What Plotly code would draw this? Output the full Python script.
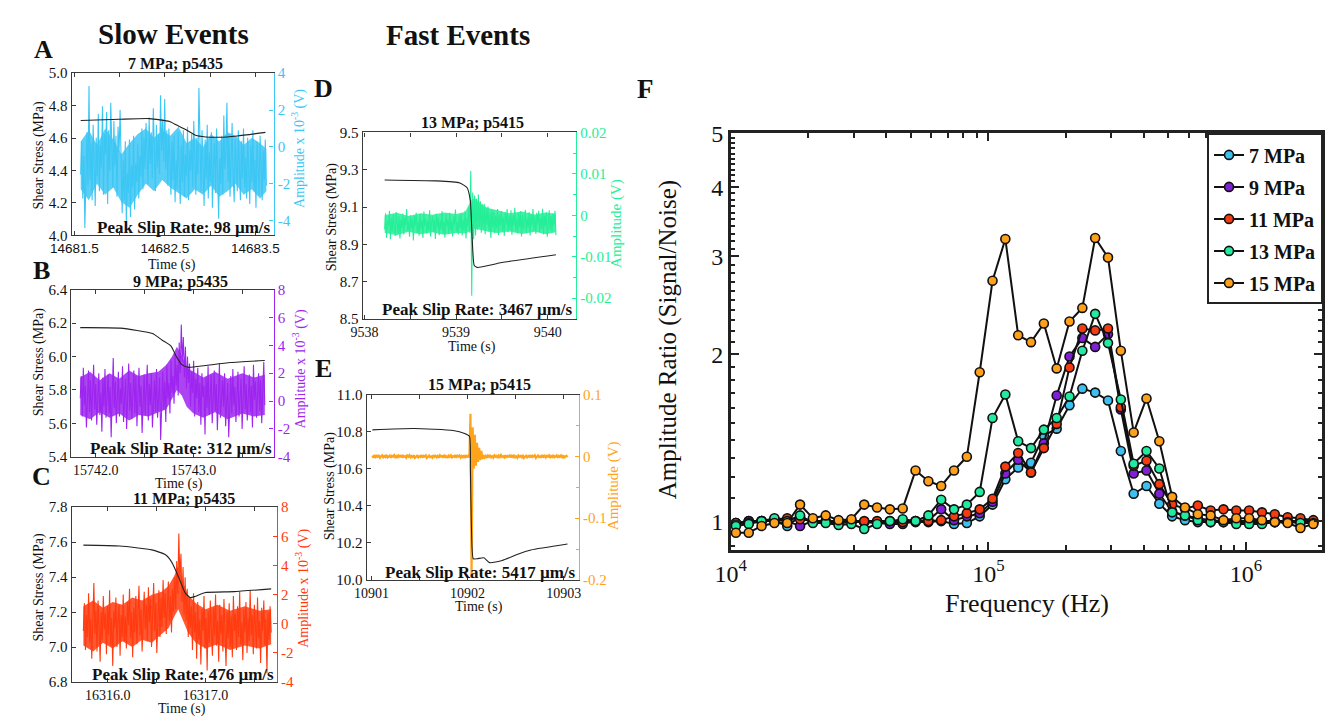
import numpy as np
import plotly.graph_objects as go

W, H = 1330, 724
SERIF = "Liberation Serif, Times New Roman, serif"
SANS = "Liberation Sans, Arial, sans-serif"

# ---------------- colours ----------------
C_CYAN = "#3cc6f4"
C_PURP = "#9d25ef"
C_RED = "#ff3b0f"
C_GREEN = "#25ee98"
C_ORANGE = "#ffa31a"

# ---------------- Panel A (7 MPa; p5435) ----------------
a_amp_t_range = (14681.57, 14683.62)
a_amp = [-1.5, 0.3, -2.8, -0.5, -4.4, -1.2, 0.8, -2.1, 3.3, -1.8, 0.2, -2.9, 1.2, -0.8, -3.2, 0.5, -1.6, 1.8, -2.4, 0.1,
         -1.1, 2.2, -2.6, 0.7, -0.4, 1.9, -3.1, 0.9, -1.3, 2.4, -0.6, -2.2, 1.4, -1.0, 0.6, -2.7, 1.1, -0.3, 2.0, -1.9,
         -3.6, -0.7, -2.9, 0.3, -4.1, -1.4, -2.5, 0.4, -3.8, -1.0, -2.2, 0.6, -3.4, -0.9, -1.9, 0.2, -2.8, -0.5, -1.6, 1.0,
         -2.3, 0.5, -1.2, 1.3, -0.6, -2.0, 1.6, -0.9, 0.8, -1.7, 2.1, -0.4, -2.4, 1.2, -1.1, 0.7, -1.5, 2.8, -0.2, 1.5,
         -0.8, 2.6, -1.2, 0.9, -2.1, 1.0, -0.5, -2.6, 0.3, -1.8, 0.6, -3.0, -0.7, -2.3, 0.8, -1.4, -3.1, 0.1, -1.9, 0.9,
         -2.7, -0.4, -1.6, 1.1, -2.9, -0.2, -1.3, 0.7, -2.2, 1.4, -0.9, -2.6, 0.5, -1.5, 3.2, -0.8, -2.4, 0.9, -1.1, -3.2,
         0.4, -1.7, 1.2, -2.8, -0.3, -1.9, 0.8, -3.3, -1.0, 0.2, -2.5, 1.0, -1.4, -3.9, -0.6, -2.0, 0.6, -2.6, 1.7, -1.2,
         -0.4, 2.4, -1.9, 0.7, -2.7, -0.5, 1.3, -1.6, -3.0, 0.4, -1.2, -2.4, 0.9, -0.8, -2.9, 0.3, -1.7, 1.0, -2.2, -0.6,
         -2.8, 0.5, -1.4, -3.1, 0.1, -1.9, 0.9, -2.4, -0.7, -3.3, 0.3, -1.5, -2.6, 0.6, -1.0, -2.9, -0.2, -1.8, 0.4, -2.1]
# dense core of the noise (lower / upper edge)
a_band_t = [14681.57, 14681.66, 14681.75, 14681.84, 14681.93, 14682.02, 14682.11, 14682.20, 14682.29, 14682.38,
            14682.47, 14682.56, 14682.65, 14682.74, 14682.83, 14682.92, 14683.01, 14683.10, 14683.19, 14683.28,
            14683.37, 14683.46, 14683.55, 14683.62]
a_band_lo = [-2.3, -2.9, -2.0, -2.6, -2.2, -3.0, -3.3, -2.6, -2.0, -2.4, -1.8, -2.2, -2.5, -2.8, -2.3, -2.6, -2.1,
             -2.7, -2.4, -2.0, -2.6, -2.3, -2.8, -2.4]
a_band_hi = [0.3, 0.9, 0.1, 1.0, 0.4, -0.4, 0.2, 0.7, 1.0, 0.5, 0.9, 0.6, 1.1, 0.2, 0.5, 0.0, 0.7, 0.3, 0.8, 0.6,
             0.1, 0.5, 0.2, -0.1]
a_stress_t = [14681.57, 14682.00, 14682.33, 14682.55, 14682.63, 14682.73, 14682.84, 14682.95, 14683.09, 14683.30, 14683.61]
a_stress = [4.708, 4.716, 4.720, 4.702, 4.680, 4.653, 4.617, 4.607, 4.605, 4.613, 4.635]

# ---------------- Panel B (9 MPa; p5435) ----------------
b_amp_t_range = (15741.84, 15743.73)
b_amp = [0.2, 1.8, -1.1, 2.4, -0.3, 1.1, -1.9, 0.9, 2.2, -0.8, 1.5, -1.4, 0.4, 2.6, -0.6, 1.2, -1.7, 0.8, 2.0, -1.0,
         0.6, -2.2, 1.7, -0.4, 2.3, -1.2, 0.3, 1.9, -0.9, 1.0, -2.6, 0.7, 3.1, -0.5, 1.4, -1.6, 0.2, 2.1, -1.1, 0.9,
         -0.2, 2.5, -1.5, 0.6, 1.6, -2.0, 0.8, 2.7, -0.7, 1.3, -1.3, 0.1, 2.2, -0.9, 1.8, -1.8, 0.5, 2.4, -0.4, 1.1,
         -2.3, 0.9, 1.9, -1.0, 0.4, 2.6, -1.4, 1.2, -0.3, 2.0, -1.9, 0.7, 1.5, -0.8, 2.3, -1.2, 0.3, 1.7, -2.8, 0.8,
         2.1, -0.6, 1.4, -1.5, 2.6, 0.2, 1.3, -0.9, 2.9, 0.6, 1.8, -0.2, 3.4, 1.1, 2.6, 0.4,
         4.2, 2.0, 5.5, 2.8, 4.6, 1.7, 3.9, 0.9, 3.2, 1.3,
         2.7, -0.4, 2.1, 0.6, 2.9, -1.1, 1.6, 0.2, 2.4, -0.8, 1.3, -1.7, 2.0, 0.3, 1.1, -2.4, 1.7, -0.5, 2.5, -1.0,
         0.8, 1.9, -1.6, 0.5, 2.2, -0.7, 1.2, -2.1, 0.4, 2.7, -1.2, 0.9, 1.5, -0.4, 2.0, -1.8, 0.6, 1.3, -2.6, 0.2,
         1.8, -0.9, 2.3, -0.3, 1.0, -1.5, 0.7, 2.1, -1.1, 0.3, 1.6, -2.0, 0.9, 2.5, -0.6, 1.2, -1.4, 0.5, 1.9, -0.8,
         1.1, -1.9, 2.6, 0.1, 1.4, -1.2, 0.6, 2.0, -0.7, 1.5, -1.6, 0.8, 2.8, -0.3]
b_band_t = [15741.84, 15741.94, 15742.04, 15742.14, 15742.24, 15742.34, 15742.44, 15742.54, 15742.64, 15742.72,
            15742.78, 15742.83, 15742.88, 15742.93, 15743.00, 15743.10, 15743.22, 15743.35, 15743.50, 15743.62,
            15743.73]
b_band_lo = [-1.0, -1.3, -0.8, -1.2, -0.9, -1.4, -1.0, -1.1, -0.8, -0.6, 0.2, 0.8, 0.4, -0.4, -0.9, -1.2, -0.8,
             -1.3, -0.9, -1.1, -1.0]
b_band_hi = [1.7, 2.1, 1.5, 2.0, 1.6, 2.2, 1.8, 2.0, 2.1, 2.6, 3.2, 3.9, 3.3, 2.4, 2.1, 1.7, 2.1, 1.6, 2.0, 1.7, 1.9]
b_stress_t = [15741.84, 15742.25, 15742.58, 15742.68, 15742.77, 15742.82, 15742.88, 15742.95, 15743.12, 15743.38, 15743.73]
b_stress = [6.173, 6.170, 6.138, 6.098, 6.063, 6.005, 5.952, 5.935, 5.946, 5.964, 5.976]

# ---------------- Panel C (11 MPa; p5435) ----------------
c_amp_t_range = (16315.75, 16317.67)
c_amp = [-0.5, 1.4, -1.8, 0.6, -0.9, 2.1, -1.3, 0.3, -2.4, 1.0, 2.8, -0.7, 0.9, -1.9, 1.6, -0.2, -2.6, 0.8, -1.1, 1.9,
         -0.4, 0.7, -2.1, 1.2, -0.8, 2.3, -1.5, 0.4, -2.9, 0.9, -0.3, 1.8, -1.6, 0.2, 1.3, -2.2, 0.6, -0.9, 2.0, -1.2,
         0.5, -1.7, 1.5, -0.1, 2.4, -1.0, 0.8, -2.3, 1.1, -0.6, 1.9, -1.4, 0.3, 2.6, -0.8, 1.0, -1.9, 0.7, 2.2, -0.4,
         1.3, -1.2, 2.5, 0.1, 1.7, -1.6, 0.9, 2.8, -0.5, 1.4, -2.0, 0.6, 2.3, -0.9, 1.8, -0.2, 3.0, 0.4, 2.1, -0.7,
         1.6, 2.9, 0.2, 1.9, -0.6, 2.4, 0.8, 3.2, 1.0,
         4.3, 2.1, 6.2, 3.0, 4.8, 1.5, 3.9, 0.6, 3.2, 0.2,
         2.4, -0.9, 1.8, -0.3, 1.2, -1.8, 2.1, -0.6, 0.8, -2.4, 1.5, -1.1, 0.3, -2.8, 1.0, -0.5, 1.9, -1.7, 0.4, -3.2,
         0.9, -1.3, 1.6, -0.4, -2.2, 1.1, -0.8, 2.0, -1.5, 0.2, -2.6, 1.3, -0.7, 0.6, -1.9, 1.7, -0.2, -2.9, 0.8, -1.0,
         1.4, -1.6, 0.5, -2.3, 1.9, -0.5, 0.7, -1.8, 1.2, -0.9, 2.2, -1.4, 0.1, -2.5, 1.0, -0.6, 1.5, -2.0, 0.4, -1.2,
         2.3, -0.8, 0.6, -2.1, 1.3, -0.3, -1.7, 1.8, -1.0, 0.2, -2.7, 1.1, -0.5, 1.6, -1.5, 0.3, -3.4, 0.8, -1.1, 1.2, -0.6]
c_band_t = [16315.75, 16315.85, 16315.95, 16316.05, 16316.15, 16316.25, 16316.35, 16316.45, 16316.55, 16316.62,
            16316.68, 16316.72, 16316.76, 16316.82, 16316.90, 16317.00, 16317.12, 16317.25, 16317.40, 16317.55,
            16317.67]
c_band_lo = [-1.5, -1.9, -1.3, -1.7, -1.2, -1.6, -1.1, -1.3, -0.7, -0.3, 0.5, 1.0, 0.3, -0.6, -1.3, -1.7, -1.4,
             -1.8, -1.5, -1.7, -1.4]
c_band_hi = [1.2, 1.6, 1.1, 1.5, 1.3, 1.8, 1.6, 2.0, 2.2, 2.6, 3.3, 4.0, 3.0, 2.0, 1.4, 1.0, 1.3, 0.9, 1.2, 0.9, 1.0]
c_stress_t = [16315.75, 16316.12, 16316.45, 16316.59, 16316.65, 16316.69, 16316.74, 16316.79, 16316.84, 16316.89,
              16316.99, 16317.29, 16317.67]
c_stress = [7.583, 7.578, 7.556, 7.528, 7.489, 7.444, 7.378, 7.311, 7.283, 7.289, 7.311, 7.317, 7.333]

# ---------------- Panel D (13 MPa; p5415), amplitude in mV ----------------
d_amp_t_range = (9538.22, 9540.09)
d_amp_mV = [-3.4, 0.5, -5.4, -1.3, -2.5, 1.1, -5.8, -0.8, -3.9, 0.2, -2.8, -5.0, 0.8, -1.8, -4.3, -0.3, -5.6, -1.0, -3.1, 0.4,
            -4.6, -0.6, -2.4, 1.5, -3.8, -1.5, -5.2, 0.0, -3.2, -1.0, -6.1, -0.2, -2.6, 0.6, -4.2, -1.6, -4.9, 0.3, -3.3, -1.2,
            -5.5, 0.9, -2.7, -0.7, -4.4, -1.4, -3.7, 1.2, -5.1, -1.9, -0.1, -4.0, -1.0, -5.7, 0.4, -2.9, -0.5, -4.8, -1.3, -3.4,
            1.0, -4.3, -1.5, -5.4, 0.2, -2.6, -1.0, -4.5, 0.6, -3.6, -1.2, -5.1, -0.3, -2.3, 1.4, -3.9, -1.6, -4.6, 0.0, -3.1,
            0.4, -4.9, -1.0, -3.8, 1.1, -5.6, -0.6, -2.7, 2.0, -4.2,
            10.7, -19.4, 5.5, -5.8, 4.8, -4.9, 4.0, -3.5, 5.0, -2.9, 3.4, -4.2, 2.6, -3.3,
            2.8, -4.6, 1.8, -2.4, 2.1, -3.9, 0.6, -5.5, 1.4, -2.8, 0.8, -4.3, -0.1, -3.1, 1.5, -4.8, 0.2, -2.5, 1.0, -3.7,
            -0.5, -5.0, 0.7, -2.2, 1.5, -4.1, -0.2, -3.4, 1.2, -4.7, 0.0, -2.6, 1.8, -3.9, -0.7, -4.4, 0.5, -2.9, 1.0, -5.1,
            0.1, -3.5, -0.4, 1.3, -4.2, -0.8, -3.0, 0.8, -4.9, 0.3, -2.5, 1.5, -3.8, -0.3, -4.5, 0.6, -2.3, 1.1, -4.0, -0.6,
            -3.3, 1.6, -4.6, -0.1, -2.7, 0.7, -5.2, -0.5, 1.2, -3.6, -0.2, -4.1, 0.4, -2.4, 1.1, -4.8]
d_band_t = [9538.22, 9538.35, 9538.48, 9538.61, 9538.74, 9538.87, 9539.00, 9539.10, 9539.16, 9539.20, 9539.26,
            9539.34, 9539.45, 9539.58, 9539.72, 9539.86, 9539.98, 9540.09]
d_band_lo_mV = [-4.2, -4.8, -4.0, -4.6, -4.1, -4.7, -4.3, -4.4, -3.8, -3.2, -3.6, -3.9, -4.3, -3.9, -4.5, -4.0,
                -4.6, -4.1]
d_band_hi_mV = [0.0, 0.6, -0.2, 0.5, 0.1, 0.7, 0.3, 0.8, 3.5, 4.2, 3.0, 1.8, 1.2, 0.5, 0.9, 0.2, 0.7, 0.4]
d_stress_t = [9538.22, 9538.78, 9539.04, 9539.12, 9539.155, 9539.176, 9539.198, 9539.23, 9539.50, 9540.09]
d_stress = [9.245, 9.240, 9.229, 9.203, 9.135, 8.927, 8.786, 8.776, 8.802, 8.844]

# ---------------- Panel E (15 MPa; p5415), amplitude in mV ----------------
e_amp_t_range = (10901.01, 10903.04)
e_amp_mV = [1.5, -2.0, 0.8, -1.2, 2.2, -0.6, 1.0, -2.4, 0.3, 1.8, -1.5, 0.6, -0.9, 2.5, -1.8, 0.2, 1.3, -2.1, 0.9, -0.4,
            2.0, -1.3, 0.5, -2.6, 1.6, -0.2, 1.1, -1.7, 2.3, -0.8, 0.4, -2.2, 1.4, -0.5, 2.1, -1.4, 0.7, -1.0, 1.9, -2.3,
            0.6, 1.2, -1.6, 0.3, -0.8, 2.4, -1.9, 0.9, -0.3, 1.7, -2.5, 0.5, 1.5, -1.1, 0.1, -2.0, 2.2, -0.7, 1.0, -1.4,
            0.8, -2.2, 1.8, -0.4, 0.6, -1.7, 2.6, -1.0, 0.2, -2.4, 1.3, -0.6, 1.9, -1.5, 0.4, -0.9, 2.3, -2.0, 1.1, -0.3,
            1.6, -1.8, 0.7, -1.1, 2.0, -2.5, 0.9, -0.5, 1.4, -1.6,
            69.0, -195.0, 47.0, -20.0, 35.0, -15.0, 22.0, -9.0, 14.0, -6.0, 9.0, -4.0,
            2.1, -1.7, 0.8, -2.3, 1.5, -0.6, 2.4, -1.2, 0.3, -1.9, 1.8, -0.4, 0.9, -2.5, 1.3, -1.0, 2.2, -0.7, 0.5, -1.6,
            2.0, -2.1, 0.6, -0.3, 1.7, -1.8, 1.1, -0.9, 2.5, -1.4, 0.2, -2.2, 1.6, -0.5, 0.8, -1.3, 2.3, -2.4, 0.4, 1.2,
            -1.5, 0.7, -0.8, 2.1, -1.9, 1.0, -0.2, 1.9, -2.6, 0.5, 1.4, -1.1, 0.3, -2.0, 2.4, -0.6, 1.2, -1.7, 0.9, -0.4,
            1.8, -2.3, 0.6, -1.0, 2.2, -1.4, 0.1, 1.5, -2.1, 0.8, -0.7, 1.6, -1.2, 2.0, -1.8, 0.4, 1.1, -0.9]
e_stress_t = [10901.01, 10901.44, 10901.85, 10901.97, 10902.02, 10902.03, 10902.04, 10902.06, 10902.10, 10902.17,
              10902.23, 10902.36, 10902.53, 10902.66, 10903.04]
e_stress = [10.810, 10.817, 10.806, 10.790, 10.775, 10.597, 10.300, 10.115, 10.115, 10.120, 10.094, 10.105, 10.141,
            10.162, 10.194]

# ---------------- Panel F: amplitude ratio spectra ----------------
freq_hz = [10471, 11743, 13170, 14770, 16565, 18578, 20836, 23368, 26207, 29392,
           32961, 36968, 41460, 46496, 52147, 58479, 65586, 73556, 82491, 92514,
           103753, 116360, 130500, 146350, 164140, 184080, 206440, 231530, 259660, 291210,
           326590, 366280, 410790, 460700, 516680, 579430, 649830, 728800, 817350, 916660,
           1028000, 1153000, 1293000, 1450000, 1626000, 1824000]
ratio_7 = [0.992, 1.0, 1.0, 1.0, 0.980, 1.020, 0.996, 0.996, 0.996, 0.996,
           0.996, 0.996, 0.996, 0.996, 0.996, 0.996, 1.0, 0.988, 0.992, 1.020,
           1.071, 1.190, 1.249, 1.274, 1.427, 1.468, 1.618, 1.733, 1.705, 1.650,
           1.338, 1.120, 1.157, 1.075, 1.020, 1.004, 0.996, 0.996, 0.996, 0.996,
           0.996, 0.996, 0.996, 0.996, 0.996, 0.996]
ratio_9 = [0.992, 1.0, 1.0, 1.004, 1.0, 0.980, 1.0, 0.996, 0.992, 0.996,
           0.996, 0.992, 0.988, 0.988, 1.0, 1.004, 1.050, 1.004, 1.020, 1.033,
           1.084, 1.219, 1.290, 1.224, 1.381, 1.684, 1.980, 2.138, 2.061, 2.173,
           1.590, 1.219, 1.234, 1.120, 1.041, 1.024, 1.012, 1.004, 1.0, 1.0,
           1.0, 1.0, 1.0, 1.0, 1.0, 1.0]
ratio_11 = [0.992, 0.992, 1.0, 1.008, 1.012, 1.008, 1.0, 1.0, 1.0, 1.0,
            1.0, 1.0, 1.0, 0.996, 1.0, 1.0, 1.004, 1.020, 1.033, 1.050,
            1.097, 1.254, 1.327, 1.224, 1.354, 1.497, 1.893, 2.224, 2.207, 2.224,
            1.605, 1.259, 1.285, 1.166, 1.071, 1.054, 1.067, 1.045, 1.050, 1.045,
            1.045, 1.037, 1.029, 1.016, 1.012, 1.004]
ratio_13 = [0.980, 0.988, 1.0, 1.012, 1.0, 1.024, 0.992, 0.992, 0.984, 0.988,
            0.968, 0.988, 1.0, 1.008, 1.0, 1.024, 1.093, 1.050, 1.071, 1.129,
            1.534, 1.691, 1.393, 1.354, 1.462, 1.534, 1.677, 2.028, 2.364, 2.094,
            1.657, 1.269, 1.338, 1.244, 1.037, 1.024, 1.004, 0.996, 0.996, 0.988,
            0.988, 0.988, 0.996, 0.996, 0.992, 0.992]
ratio_15 = [0.953, 0.953, 0.980, 0.992, 0.992, 1.071, 1.012, 1.024, 1.004, 1.008,
            1.071, 1.058, 1.050, 1.054, 1.234, 1.180, 1.157, 1.234, 1.306, 1.855,
            2.712, 3.226, 2.163, 2.102, 2.271, 1.885, 2.290, 2.423, 3.240, 2.988,
            2.028, 1.445, 1.664, 1.393, 1.106, 1.058, 1.029, 1.024, 1.004, 1.012,
            1.012, 1.004, 0.996, 0.992, 0.972, 0.988]
f_series = [("7 MPa", ratio_7, "#3cc0ef"), ("9 MPa", ratio_9, "#7f1fd6"), ("11 MPa", ratio_11, "#f53c10"),
            ("13 MPa", ratio_13, "#22eaa0"), ("15 MPa", ratio_15, "#ffa01a")]


# ---------------- helpers ----------------
def xd(l, r):
    return [l / W, r / W]


def yd(top, bottom):
    return [1 - bottom / H, 1 - top / H]


def times(rng, n):
    return np.linspace(rng[0], rng[1], n)


def rgba(hexcol, a):
    h = hexcol.lstrip("#")
    return f"rgba({int(h[0:2], 16)},{int(h[2:4], 16)},{int(h[4:6], 16)},{a})"


fig = go.Figure()

panels = [
    # (xname, y_amp, y_stress, amp times, amp values, colour, stress t, stress, band t, band lo, band hi, width)
    ("x", "y", "y2", times(a_amp_t_range, len(a_amp)), a_amp, C_CYAN, a_stress_t, a_stress,
     a_band_t, a_band_lo, a_band_hi, 1.1),
    ("x2", "y3", "y4", times(b_amp_t_range, len(b_amp)), b_amp, C_PURP, b_stress_t, b_stress,
     b_band_t, b_band_lo, b_band_hi, 1.1),
    ("x3", "y5", "y6", times(c_amp_t_range, len(c_amp)), c_amp, C_RED, c_stress_t, c_stress,
     c_band_t, c_band_lo, c_band_hi, 1.1),
    ("x4", "y7", "y8", times(d_amp_t_range, len(d_amp_mV)), [v / 1000 for v in d_amp_mV], C_GREEN, d_stress_t,
     d_stress, d_band_t, [v / 1000 for v in d_band_lo_mV], [v / 1000 for v in d_band_hi_mV], 1.1),
    ("x5", "y9", "y10", times(e_amp_t_range, len(e_amp_mV)), [v / 1000 for v in e_amp_mV], C_ORANGE, e_stress_t,
     e_stress, None, None, None, 2.2),
]
for xn, ya, ys, ta, va, col, ts, vs, bt, blo, bhi, lw in panels:
    if bt is not None:
        fig.add_trace(go.Scatter(x=list(bt) + list(bt)[::-1], y=list(bhi) + list(blo)[::-1], xaxis=xn, yaxis=ya,
                                 mode="lines", fill="toself", fillcolor=rgba(col, 0.85), line=dict(width=0),
                                 showlegend=False, hoverinfo="skip"))
    fig.add_trace(go.Scatter(x=ta, y=va, xaxis=xn, yaxis=ya, mode="lines",
                             line=dict(color=col, width=lw), showlegend=False, hoverinfo="skip"))
    fig.add_trace(go.Scatter(x=ts, y=vs, xaxis=xn, yaxis=ys, mode="lines",
                             line=dict(color="#222222", width=1.1, shape="spline", smoothing=0.5),
                             showlegend=False, hoverinfo="skip"))

for name, vals, col in f_series:
    fig.add_trace(go.Scatter(x=freq_hz, y=vals, xaxis="x6", yaxis="y11", mode="lines+markers", name=name,
                             legendgroup=name,
                             line=dict(color="#111111", width=2),
                             marker=dict(symbol="circle", size=9, color=col, line=dict(color="#111111", width=1.6))))

FRAME = "#3a3a3a"
TICK_FS = 15
XTICK_FS = 14


def xaxis_common(dom, anchor, rng, tickvals, ticktext, minor_vals, family=SERIF, fs=XTICK_FS):
    return dict(domain=dom, anchor=anchor, range=rng, tickmode="array", tickvals=tickvals, ticktext=ticktext,
                tickfont=dict(family=family, size=fs, color="#111"), ticks="inside", ticklen=4, tickcolor=FRAME,
                showline=True, linecolor=FRAME, linewidth=1.2, mirror="allticks", showgrid=False, zeroline=False,
                minor=dict(tickmode="array", tickvals=minor_vals, ticks="inside", ticklen=3, tickcolor=FRAME))


def amp_axis(dom, anchor, rng, vals, texts, col, minor_vals=None):
    d = dict(domain=dom, anchor=anchor, side="right", range=rng, tickmode="array", tickvals=vals, ticktext=texts,
             tickfont=dict(family=SERIF, size=TICK_FS, color=col), ticks="inside", ticklen=4, tickcolor=col,
             showline=True, linecolor=col, linewidth=1.2, showgrid=False, zeroline=False)
    if minor_vals:
        d["minor"] = dict(tickmode="array", tickvals=minor_vals, ticks="inside", ticklen=3, tickcolor=col)
    return d


def stress_axis(over, anchor, rng, vals):
    return dict(overlaying=over, anchor=anchor, side="left", range=rng, tickmode="array", tickvals=vals,
                ticktext=[f"{v:.1f}" for v in vals], tickfont=dict(family=SERIF, size=TICK_FS, color="#111"),
                ticks="inside", ticklen=4, tickcolor=FRAME, showline=True, linecolor=FRAME, linewidth=1.2,
                showgrid=False, zeroline=False)


amp_vals_ab = [-4, -2, 0, 2, 4]
amp_vals_bc = [-4, -2, 0, 2, 4, 6, 8]

layout = dict(
    width=W, height=H, margin=dict(l=0, r=0, t=0, b=0), paper_bgcolor="white", plot_bgcolor="rgba(0,0,0,0)",
    font=dict(family=SERIF, color="#111"),
    # Panel A
    xaxis=xaxis_common(xd(50.7, 257), "y", [14681.47, 14683.70], [14681.5, 14682.5, 14683.5],
                       ["14681.5", "14682.5", "14683.5"], [14682.0, 14683.0], family=SANS, fs=13.5),
    yaxis=amp_axis(yd(62, 229), "x", [-4.8, 4], amp_vals_ab, [str(v) for v in amp_vals_ab], C_CYAN),
    yaxis2=stress_axis("y", "x", [4.0, 5.0], [4.0, 4.2, 4.4, 4.6, 4.8, 5.0]),
    # Panel B
    xaxis2=xaxis_common(xd(50.5, 257), "y3", [15741.75, 15743.82], [15742.0, 15743.0], ["15742.0", "15743.0"],
                        [15742.5, 15743.5]),
    yaxis3=amp_axis(yd(285, 457), "x2", [-4, 8], amp_vals_bc, [str(v) for v in amp_vals_bc], C_PURP),
    yaxis4=stress_axis("y3", "x2", [5.4, 6.4], [5.4, 5.6, 5.8, 6.0, 6.2, 6.4]),
    # Panel C
    xaxis3=xaxis_common(xd(50.7, 260.5), "y5", [16315.63, 16317.73], [16316.0, 16317.0], ["16316.0", "16317.0"],
                        [16316.5, 16317.5]),
    yaxis5=amp_axis(yd(509, 689), "x3", [-4, 8], amp_vals_bc, [str(v) for v in amp_vals_bc], C_RED),
    yaxis6=stress_axis("y5", "x3", [6.8, 7.8], [6.8, 7.0, 7.2, 7.4, 7.6, 7.8]),
    # Panel D
    xaxis4=xaxis_common(xd(348, 566), "y7", [9537.98, 9540.31], [9538, 9539, 9540], ["9538", "9539", "9540"],
                        [9538.5, 9539.5]),
    yaxis7=amp_axis(yd(123, 315), "x4", [-0.025, 0.02], [-0.02, -0.01, 0, 0.01, 0.02],
                    ["-0.02", "-0.01", "0", "0.01", "0.02"], C_GREEN, [-0.015, -0.005, 0.005, 0.015]),
    yaxis8=stress_axis("y7", "x4", [8.5, 9.5], [8.5, 8.7, 8.9, 9.1, 9.3, 9.5]),
    # Panel E
    xaxis5=xaxis_common(xd(352, 569), "y9", [10900.95, 10903.16], [10901, 10902, 10903], ["10901", "10902", "10903"],
                        [10901.5, 10902.5]),
    yaxis9=amp_axis(yd(393, 584), "x5", [-0.2, 0.1], [-0.2, -0.1, 0, 0.1], ["-0.2", "-0.1", "0", "0.1"], C_ORANGE,
                    [-0.15, -0.05, 0.05]),
    yaxis10=stress_axis("y9", "x5", [10.0, 11.0], [10.0, 10.2, 10.4, 10.6, 10.8, 11.0]),
    # Panel F
    xaxis6=dict(domain=xd(724, 1328), anchor="y11", type="log", range=[4.0, 6.295], tickmode="array",
                tickvals=[1e4, 1e5, 1e6], ticktext=["10<sup>4</sup>", "10<sup>5</sup>", "10<sup>6</sup>"],
                tickfont=dict(family=SERIF, size=24, color="#111"), ticks="inside", ticklen=8, tickwidth=1.5,
                tickcolor="#222", showline=True, linecolor="#222", linewidth=2.5, mirror="allticks",
                showgrid=False, zeroline=False,
                minor=dict(tickmode="array", tickvals=[m * 10 ** e for e in (4, 5) for m in range(2, 10)],
                           ticks="inside", ticklen=5, tickcolor="#222")),
    yaxis11=dict(domain=yd(124, 553), anchor="x6", type="log", range=[-0.052, 0.699], tickmode="array",
                 tickvals=[1, 2, 3, 4, 5], ticktext=["1", "2", "3", "4", "5"],
                 tickfont=dict(family=SERIF, size=24, color="#111"), ticks="inside", ticklen=8, tickwidth=1.5,
                 tickcolor="#222", showline=True, linecolor="#222", linewidth=2.5, mirror="allticks",
                 showgrid=False, zeroline=False,
                 minor=dict(tickmode="array", tickvals=[round(0.9 + 0.1 * i, 1) for i in range(42)
                                                        if abs((0.9 + 0.1 * i) - round(0.9 + 0.1 * i)) > 1e-6],
                            ticks="inside", ticklen=4, tickcolor="#222")),
    legend=dict(x=1329 / W, y=1 - 124 / H, xanchor="right", yanchor="top", bgcolor="white",
                bordercolor="#222", borderwidth=2, font=dict(family=SERIF, size=20, color="#111", weight="bold"),
                itemwidth=30, tracegroupgap=3),
    showlegend=True,
)
fig.update_layout(**layout)


def ann(text, x, y, size, color="#111", bold=False, angle=0, xanchor="center", family=SERIF):
    if bold:
        text = f"<b>{text}</b>"
    return dict(text=text, x=x / W, y=1 - y / H, xref="paper", yref="paper", showarrow=False,
                font=dict(family=family, size=size, color=color), textangle=angle,
                xanchor=xanchor, yanchor="middle")


TITLE_FS = 16
PEAK_FS = 17
TIME_FS = 14
annotations = [
    ann("Slow Events", 155, 22, 29, bold=True),
    ann("Fast Events", 445, 23, 29, bold=True),
    ann("A", 22, 38, 26, bold=True), ann("B", 20, 265, 26, bold=True), ann("C", 20, 477, 26, bold=True),
    ann("D", 308, 78, 26, bold=True), ann("E", 308, 366, 26, bold=True), ann("F", 637, 78, 27, bold=True),
    ann("7 MPa; p5435", 157, 53, TITLE_FS, bold=True),
    ann("9 MPa; p5435", 162, 277, TITLE_FS, bold=True),
    ann("11 MPa; p5435", 165, 501, TITLE_FS, bold=True),
    ann("13 MPa; p5415", 460, 113, TITLE_FS, bold=True),
    ann("15 MPa; p5415", 467, 383, TITLE_FS, bold=True),
    ann("Peak Slip Rate: 98 µm/s", 256, 221, PEAK_FS, bold=True, xanchor="right"),
    ann("Peak Slip Rate: 312 µm/s", 257, 448, PEAK_FS, bold=True, xanchor="right"),
    ann("Peak Slip Rate: 476 µm/s", 259, 681, PEAK_FS, bold=True, xanchor="right"),
    ann("Peak Slip Rate: 3467 µm/s", 565, 305, PEAK_FS, bold=True, xanchor="right"),
    ann("Peak Slip Rate: 5417 µm/s", 568, 576, PEAK_FS, bold=True, xanchor="right"),
    ann("Time (s)", 153, 260, TIME_FS), ann("Time (s)", 160, 485, TIME_FS), ann("Time (s)", 163, 717, TIME_FS),
    ann("Time (s)", 460, 344, TIME_FS), ann("Time (s)", 467, 612, TIME_FS),
    ann("Shear Stress (MPa)", 17, 147, 14, angle=-90), ann("Shear Stress (MPa)", 17, 360, 14, angle=-90),
    ann("Shear Stress (MPa)", 17, 592, 14, angle=-90), ann("Shear Stress (MPa)", 317, 210, 14, angle=-90),
    ann("Shear Stress (MPa)", 315, 487, 14, angle=-90),
    ann("Amplitude x 10<sup>-3</sup> (V)", 283, 140, 14, color=C_CYAN, angle=-90),
    ann("Amplitude x 10<sup>-3</sup> (V)", 283, 367, 14, color=C_PURP, angle=-90),
    ann("Amplitude x 10<sup>-3</sup> (V)", 287, 592, 14, color=C_RED, angle=-90),
    ann("Amplitude (V)", 607, 217, 15, color=C_GREEN, angle=-90),
    ann("Amplitude (V)", 605, 487, 15, color=C_ORANGE, angle=-90),
    ann("Frequency (Hz)", 1027, 608, 26),
    ann("Amplitude Ratio (Signal/Noise)", 660, 337, 25, angle=-90),
]
fig.update_layout(annotations=annotations)

fig.write_html("out.html")
